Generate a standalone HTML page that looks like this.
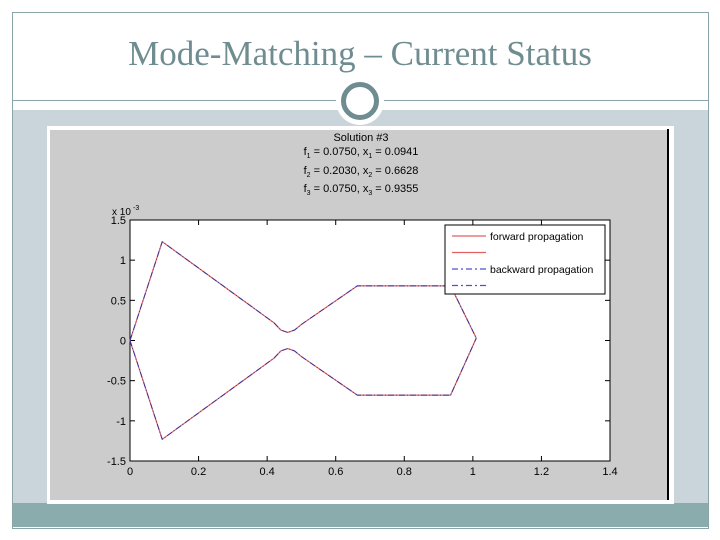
<!DOCTYPE html>
<html><head><meta charset="utf-8"><style>
body{margin:0;width:720px;height:540px;background:#fff;position:relative;overflow:hidden;font-family:"Liberation Sans",sans-serif}
.abs{position:absolute}
</style></head><body>
<div class="abs" style="left:12px;top:12px;width:695px;height:515px;border:1px solid #8aa5a8"></div>
<div class="abs" style="left:0;top:34px;width:720px;text-align:center;font-family:'Liberation Serif',serif;font-size:35px;color:#6f8d90">Mode-Matching – Current Status</div>
<div class="abs" style="left:13px;top:110px;width:695px;height:393px;background:#c9d5da"></div>
<div class="abs" style="left:13px;top:100px;width:695px;height:1px;background:#8aa5a8"></div>
<div class="abs" style="left:13px;top:503px;width:695px;height:24px;background:#8aacad"></div>
<div class="abs" style="left:336px;top:77px;width:48px;height:48px;border-radius:50%;background:#fff"></div>
<div class="abs" style="left:341px;top:82px;width:28px;height:28px;border-radius:50%;border:5px solid #6f8d90"></div>
<svg class="abs" style="left:0;top:0" width="720" height="540">
<rect x="47" y="126" width="627" height="378" fill="#fff"/>
<rect x="50" y="130" width="618" height="370" fill="#cccccc"/>
<line x1="668" y1="129" x2="668" y2="500" stroke="#000" stroke-width="2"/>
<g id="plot"></g>
</svg>
<script>
const xTicks=[0,0.2,0.4,0.6,0.8,1,1.2,1.4];
const yTicks=[-1.5,-1,-0.5,0,0.5,1,1.5];
const yTickLabels=["-1.5","-1","-0.5","0","0.5","1","1.5"];
const upperX=[0,0.094,0.42,0.44,0.46,0.48,0.50,0.663,0.935,1.01];
const upperY=[0,1.23,0.22,0.13,0.10,0.13,0.20,0.68,0.68,0.03];
const lowerX=[0,0.094,0.42,0.44,0.46,0.48,0.50,0.663,0.935,1.01];
const lowerY=[0,-1.23,-0.22,-0.13,-0.10,-0.13,-0.20,-0.68,-0.68,0.03];
const L=130,R=610,T=220,B=461;
const sx=v=>L+(v-0)/1.4*(R-L);
const sy=v=>B-(v+1.5)/3*(B-T);
const ns="http://www.w3.org/2000/svg";
const g=document.getElementById('plot');
function mk(t,a,txt){const e=document.createElementNS(ns,t);for(const k in a)e.setAttribute(k,a[k]);if(txt!==undefined)e.textContent=txt;g.appendChild(e);return e;}
const ax=mk('rect',{x:L,y:T,width:R-L,height:B-T,fill:'#fff',stroke:'#000','stroke-width':1});


xTicks.forEach((v,i)=>{
 mk('line',{x1:sx(v),y1:B,x2:sx(v),y2:B-5,stroke:'#000'});
 mk('line',{x1:sx(v),y1:T,x2:sx(v),y2:T+5,stroke:'#000'});
 const t=mk('text',{x:sx(v),y:B+14,'text-anchor':'middle','font-size':11,fill:'#000'},String(v));
 
 
});
yTicks.forEach((v,i)=>{
 mk('line',{x1:L,y1:sy(v),x2:L+5,y2:sy(v),stroke:'#000'});
 mk('line',{x1:R,y1:sy(v),x2:R-5,y2:sy(v),stroke:'#000'});
 const t=mk('text',{x:L-4,y:sy(v)+4,'text-anchor':'end','font-size':11,fill:'#000'},yTickLabels[i]);
 
 
});
const ex=mk('text',{x:L-18,y:T-5,'font-size':10,fill:'#000'},'x 10');


mk('text',{x:L+3,y:T-10,'font-size':7,fill:'#000'},'-3');
function pts(xs,ys){return xs.map((x,i)=>sx(x)+','+sy(ys[i])).join(' ');}
[[upperX,upperY,'forward-upper'],[lowerX,lowerY,'forward-lower']].forEach(s=>{
 const p=mk('polyline',{points:pts(s[0],s[1]),fill:'none',stroke:'#e06060','stroke-width':1.2,'stroke-linejoin':'round'});
 
 
});
[[upperX,upperY,'backward-upper'],[lowerX,lowerY,'backward-lower']].forEach(s=>{
 const p=mk('polyline',{points:pts(s[0],s[1]),fill:'none',stroke:'#3030a0','stroke-width':0.9,'stroke-dasharray':'6,2,1,2','stroke-linejoin':'round'});
 
 
});
const tt=mk('text',{x:361,y:141,'text-anchor':'middle','font-size':11,fill:'#000'},'Solution #3');


const sub=[['1','0.0750','1','0.0941',155],['2','0.2030','2','0.6628',174],['3','0.0750','3','0.9355',192]];
sub.forEach(s=>{
 const t=mk('text',{x:361,y:s[4],'text-anchor':'middle','font-size':11,fill:'#000'});
 t.innerHTML='f<tspan dy="3" font-size="7">'+s[0]+'</tspan><tspan dy="-3"> = '+s[1]+', x</tspan><tspan dy="3" font-size="7">'+s[2]+'</tspan><tspan dy="-3"> = '+s[3]+'</tspan>';
 
 
});
const lg=mk('rect',{x:445,y:225,width:160,height:69,fill:'#fff',stroke:'#000'});


const leg=[['forward propagation','#e06060',null],['','#e06060',null],['backward propagation','#5050d0','6,3,2,3'],['','#5050d0','6,3,2,3']];
leg.forEach((e,i)=>{
 const y=236+i*16.5;
 const a={x1:452,y1:y,x2:486,y2:y,stroke:e[1],'stroke-width':1.2};
 if(e[2])a['stroke-dasharray']=e[2];
 mk('line',a);
 const t=mk('text',{x:490,y:y+4,'font-size':10.5,fill:'#000'},e[0]);
 
 
});
</script>
</body></html>
